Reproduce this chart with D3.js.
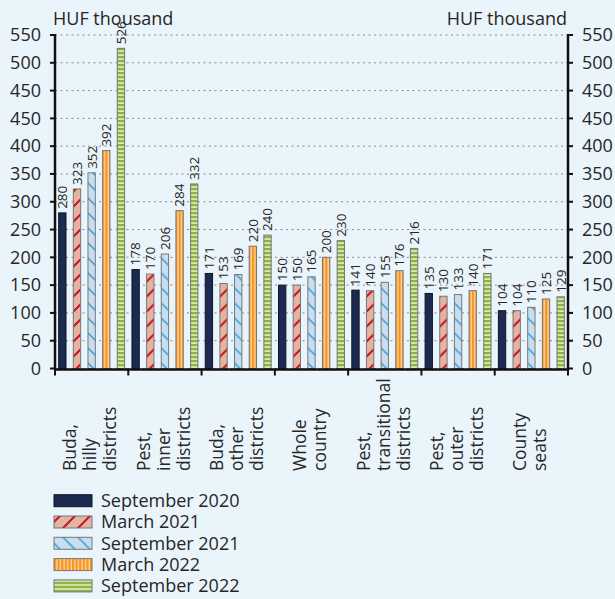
<!DOCTYPE html>
<html>
<head>
<meta charset="utf-8">
<script src="https://cdn.jsdelivr.net/npm/d3@7"></script>
<style>
    body { margin: 0; background: #eaf4fb; }
    svg { display: block; font-family: "Open Sans", sans-serif; }
    text { fill: #262626; }
</style>
</head>
<body>
<script>
// data
const categories = [
    ["Buda,", "hilly", "districts"],
    ["Pest,", "inner", "districts"],
    ["Buda,", "other", "districts"],
    ["Whole", "country"],
    ["Pest,", "transitional", "districts"],
    ["Pest,", "outer", "districts"],
    ["County", "seats"]
];
const seriesNames = ["September 2020", "March 2021", "September 2021", "March 2022", "September 2022"];
const sep2020 = [280, 178, 171, 150, 141, 135, 104];
const mar2021 = [323, 170, 153, 150, 140, 130, 104];
const sep2021 = [352, 206, 169, 165, 155, 133, 110];
const mar2022 = [392, 284, 220, 200, 176, 140, 125];
const sep2022 = [526, 332, 240, 230, 216, 171, 129];
// the axis labels as printed (450 appears twice in the original)
const yTickLabels = ["0", "50", "100", "150", "200", "250", "300", "350", "400", "450", "450", "500", "550"];
const unitLabel = "HUF thousand";

const seriesValues = [sep2020, mar2021, sep2021, mar2022, sep2022];

const W = 615, H = 599;
const mLeft = 55, mRight = 568, mTop = 35, mBottom = 368.5;
const ph = mBottom - mTop;

const svg = d3.select("body").append("svg")
    .attr("width", W)
    .attr("height", H);

// patterns
const defs = svg.append("defs");
let p = defs.append("pattern").attr("id", "pMar21")
    .attr("patternUnits", "userSpaceOnUse").attr("width", 15).attr("height", 15);
p.append("rect").attr("width", 15).attr("height", 15).attr("fill", "#e3b3a3");
p.append("path").attr("d", "M0,15L15,0M-2,2L2,-2M13,17L17,13")
    .attr("stroke", "#c4161c").attr("stroke-width", 2);

p = defs.append("pattern").attr("id", "pSep21")
    .attr("patternUnits", "userSpaceOnUse").attr("width", 15).attr("height", 15);
p.append("rect").attr("width", 15).attr("height", 15).attr("fill", "#c7def1");
p.append("path").attr("d", "M0,0L15,15M-2,13L2,17M13,-2L17,2")
    .attr("stroke", "#4fa3da").attr("stroke-width", 1.6);

p = defs.append("pattern").attr("id", "pMar22")
    .attr("patternUnits", "userSpaceOnUse").attr("width", 3.6).attr("height", 10);
p.append("rect").attr("width", 3.6).attr("height", 10).attr("fill", "#f7941d");
p.append("rect").attr("x", 2.2).attr("width", 1.4).attr("height", 10).attr("fill", "#fdd3a3");

p = defs.append("pattern").attr("id", "pSep22")
    .attr("patternUnits", "userSpaceOnUse").attr("width", 10).attr("height", 4);
p.append("rect").attr("width", 10).attr("height", 4).attr("fill", "#8cb33d");
p.append("rect").attr("y", 2.2).attr("width", 10).attr("height", 1.8).attr("fill", "#d8e7b9");

const fills = ["#1b2a4e", "url(#pMar21)", "url(#pSep21)", "url(#pMar22)", "url(#pSep22)"];
const strokes = ["#0d1629", "#777", "#777", "#777", "#777"];

// scales
const x0 = d3.scaleBand().domain(d3.range(categories.length)).range([mLeft, mRight]);
const x1 = d3.scaleBand().domain(d3.range(seriesNames.length))
    .range([0, x0.bandwidth()]).paddingInner(0.5).paddingOuter(0.25);
// piecewise scale, so the bars agree with the printed labels
const y = d3.scaleLinear()
    .domain([0, 400, 450, 550])
    .range([mBottom, mBottom - ph * 8 / 12, mBottom - ph * 10 / 12, mTop]);
const tickPos = d3.range(yTickLabels.length).map(i => mBottom - ph * i / 12);

// grid
svg.append("g").selectAll("line")
    .data(tickPos)
    .join("line")
    .attr("x1", mLeft).attr("x2", mRight)
    .attr("y1", d => d).attr("y2", d => d)
    .attr("stroke", "#8a8a8a")
    .attr("stroke-dasharray", "2,3.5");

// bars
const groups = svg.append("g").selectAll("g")
    .data(categories)
    .join("g")
    .attr("transform", (d, i) => `translate(${x0(i)},0)`);

groups.each(function (c, ci) {
    const g = d3.select(this);
    seriesValues.forEach((vals, si) => {
        const v = vals[ci];
        g.append("rect")
            .attr("x", x1(si))
            .attr("y", y(v))
            .attr("width", x1.bandwidth())
            .attr("height", y(0) - y(v))
            .attr("fill", fills[si])
            .attr("stroke", strokes[si])
            .attr("stroke-width", 1);
        g.append("text")
            .attr("transform", `translate(${x1(si) + x1.bandwidth() / 2},${y(v) - 4}) rotate(-90)`)
            .attr("dy", "0.36em")
            .attr("font-size", 13.5)
            .text(v);
    });
});

// axes
const axisG = svg.append("g").attr("stroke", "#111");
axisG.append("line").attr("x1", mLeft).attr("x2", mLeft).attr("y1", mTop - 1).attr("y2", mBottom + 1.5)
    .attr("stroke-width", 2.5);
axisG.append("line").attr("x1", mRight).attr("x2", mRight).attr("y1", mTop - 1).attr("y2", mBottom + 1.5)
    .attr("stroke-width", 2.5);
axisG.append("line").attr("x1", mLeft - 1).attr("x2", mRight + 1).attr("y1", mBottom + 1).attr("y2", mBottom + 1)
    .attr("stroke-width", 2.5);
axisG.selectAll(".lt").data(tickPos).join("line")
    .attr("x1", mLeft - 5).attr("x2", mLeft).attr("y1", d => d).attr("y2", d => d).attr("stroke-width", 2);
axisG.selectAll(".rt").data(tickPos).join("line")
    .attr("x1", mRight).attr("x2", mRight + 5).attr("y1", d => d).attr("y2", d => d).attr("stroke-width", 2);
axisG.selectAll(".bt").data(d3.range(categories.length + 1)).join("line")
    .attr("x1", i => mLeft + i * x0.step()).attr("x2", i => mLeft + i * x0.step())
    .attr("y1", mBottom).attr("y2", mBottom + 7).attr("stroke-width", 2);

svg.append("g").selectAll("text").data(yTickLabels).join("text")
    .attr("x", 41).attr("y", (d, i) => tickPos[i]).attr("dy", "0.35em")
    .attr("text-anchor", "end").attr("font-size", 18).text(d => d);
svg.append("g").selectAll("text").data(yTickLabels).join("text")
    .attr("x", 582).attr("y", (d, i) => tickPos[i]).attr("dy", "0.35em")
    .attr("text-anchor", "start").attr("font-size", 18).text(d => d);

svg.append("text").attr("x", 53).attr("y", 25).attr("font-size", 18).text(unitLabel);
svg.append("text").attr("x", 567).attr("y", 25).attr("font-size", 18)
    .attr("text-anchor", "end").text(unitLabel);

// category labels, rotated, one text per line
groups.each(function (lines) {
    const cx = x0.bandwidth() / 2 - 1.5;
    const n = lines.length;
    d3.select(this).selectAll(".cl").data(lines).join("text")
        .attr("transform", (d, i) => `translate(${cx + (i - (n - 1) / 2) * 20},471) rotate(-90)`)
        .attr("dy", "0.36em")
        .attr("font-size", 17.5)
        .text(d => d);
});

// legend
const legend = svg.append("g").selectAll("g").data(seriesNames).join("g")
    .attr("transform", (d, i) => `translate(54,${500.7 + i * 21.3})`);
legend.append("rect")
    .attr("x", 0).attr("y", -6).attr("width", 38).attr("height", 12)
    .attr("fill", (d, i) => fills[i])
    .attr("stroke", (d, i) => strokes[i]);
legend.append("text")
    .attr("x", 47).attr("dy", "0.35em").attr("font-size", 18)
    .text(d => d);
</script>
</body>
</html>
